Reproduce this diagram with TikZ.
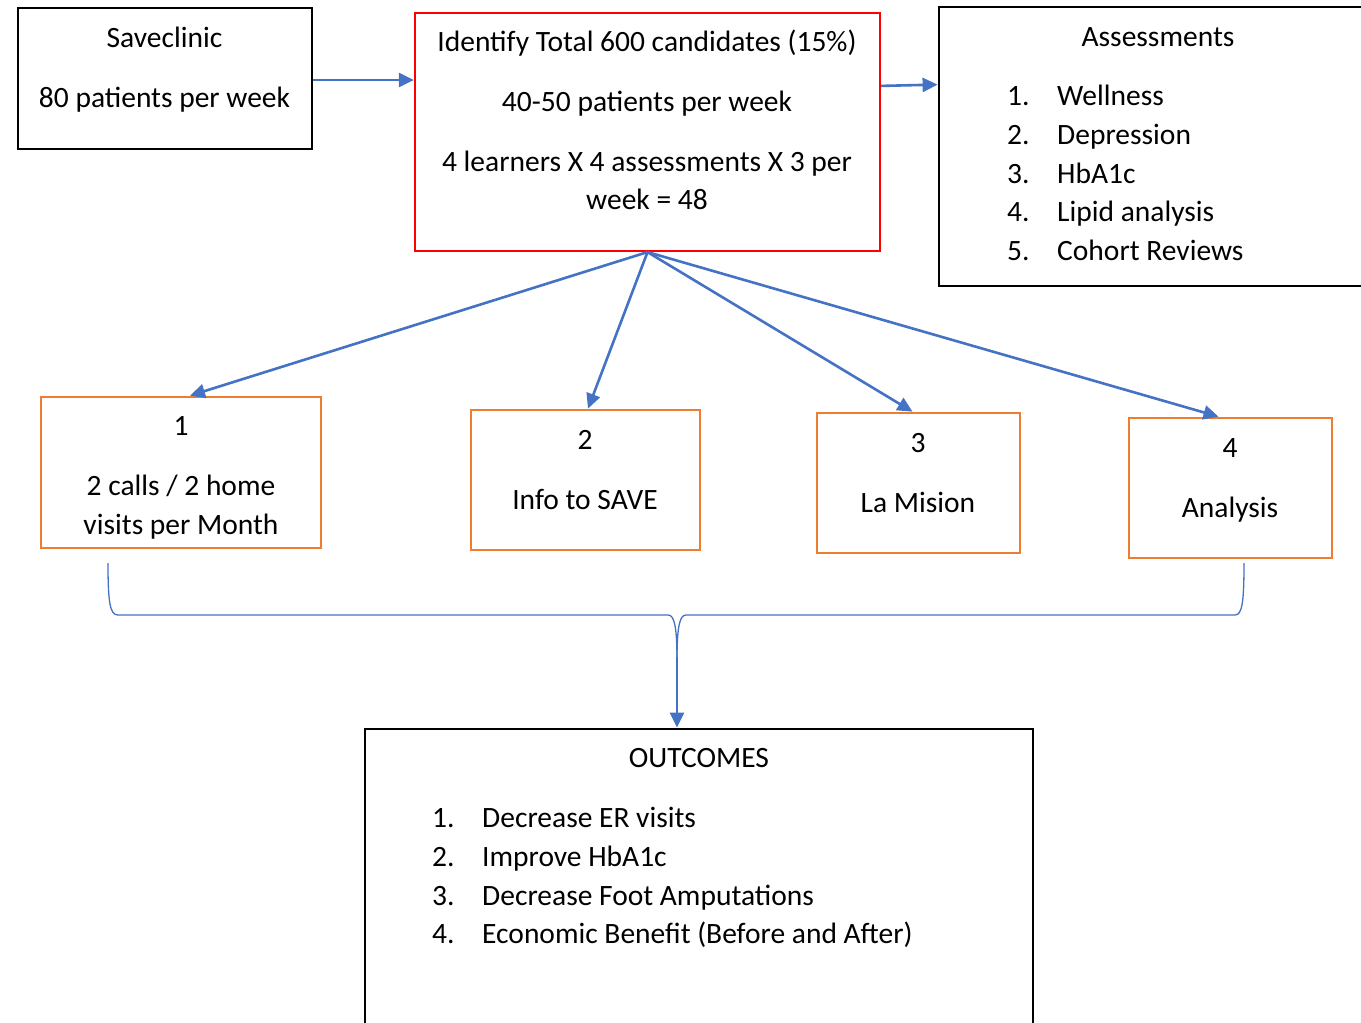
\documentclass[tikz,border=0pt]{standalone}
\usepackage{fontspec}
\setmainfont{Carlito}
\usetikzlibrary{arrows.meta}
\definecolor{wblue}{HTML}{4472C4}
\definecolor{worange}{HTML}{ED7D31}
\definecolor{wred}{HTML}{FF0000}
\begin{document}
\begin{tikzpicture}[x=1pt,y=-1pt,
  blackbox/.style={draw=black,line width=2.8pt,inner sep=0pt},
  redbox/.style={draw=wred,line width=2.2pt,inner sep=0pt},
  orbox/.style={draw=worange,line width=2.7pt,inner sep=0pt},
  txt/.style={inner sep=0pt,anchor=base,font=\fontsize{29.5}{36}\selectfont},
  ltxt/.style={inner sep=0pt,anchor=base west,font=\fontsize{29.5}{36}\selectfont},
  conn/.style={draw=wblue,line width=2.6pt,-{Triangle[length=15pt,width=14pt]}},
  brace/.style={draw=wblue,line width=1.3pt}]
\clip (0,0) rectangle (1361,1023);
\fill[white] (0,0) rectangle (1361,1023);
% boxes
\node[blackbox,minimum width=294,minimum height=141] (save) at (165,78.5) {};
\node[redbox,minimum width=465,minimum height=238] (red) at (647.5,132) {};
\node[blackbox,minimum width=450,minimum height=279] (assess) at (1164,146.5) {};
\node[orbox,minimum width=280,minimum height=151] (b1) at (181,472.5) {};
\node[orbox,minimum width=229,minimum height=140] (b2) at (585.5,480) {};
\node[orbox,minimum width=203,minimum height=140] (b3) at (918.5,483) {};
\node[orbox,minimum width=203,minimum height=140] (b4) at (1230.5,488) {};
\node[blackbox,minimum width=668,minimum height=340] (out) at (699,899) {};
% texts
\node[txt] (t-save1) at (164.5,47) {Saveclinic};
\node[txt] (t-save2) at (164.5,107) {80 patients per week};
\node[txt] (t-red1) at (647,51) {Identify Total 600 candidates (15\%)};
\node[txt] (t-red2) at (647,111) {40-50 patients per week};
\node[txt] (t-red3) at (647,171) {4 learners X 4 assessments X 3 per};
\node[txt] (t-red4) at (647,209) {week = 48};
\node[txt] (t-as) at (1158,46) {Assessments};
\node[ltxt] (a1n) at (1007,105) {1.};
\node[ltxt] (a1) at (1057,105) {Wellness};
\node[ltxt] (a2n) at (1007,144) {2.};
\node[ltxt] (a2) at (1057,144) {Depression};
\node[ltxt] (a3n) at (1007,183) {3.};
\node[ltxt] (a3) at (1057,183) {HbA1c};
\node[ltxt] (a4n) at (1007,221) {4.};
\node[ltxt] (a4) at (1057,221) {Lipid analysis};
\node[ltxt] (a5n) at (1007,260) {5.};
\node[ltxt] (a5) at (1057,260) {Cohort Reviews};
\node[txt] (t-b1a) at (181,435) {1};
\node[txt] (t-b1b) at (181,495) {2 calls / 2 home};
\node[txt] (t-b1c) at (181,534) {visits per Month};
\node[txt] (t-b2a) at (585,449) {2};
\node[txt] (t-b2b) at (585,509) {Info to SAVE};
\node[txt] (t-b3a) at (918,452) {3};
\node[txt] (t-b3b) at (918,512) {La Mision};
\node[txt] (t-b4a) at (1230,457) {4};
\node[txt] (t-b4b) at (1230,517) {Analysis};
\node[txt] (t-out) at (699,767) {OUTCOMES};
\node[ltxt] (o1n) at (432,827) {1.};
\node[ltxt] (o1) at (482,827) {Decrease ER visits};
\node[ltxt] (o2n) at (432,866) {2.};
\node[ltxt] (o2) at (482,866) {Improve HbA1c};
\node[ltxt] (o3n) at (432,905) {3.};
\node[ltxt] (o3) at (482,905) {Decrease Foot Amputations};
\node[ltxt] (o4n) at (432,943) {4.};
\node[ltxt] (o4) at (482,943) {Economic Benefit (Before and After)};
% connectors
\draw[conn] ([yshift=-1.5pt]save.east) -- ([yshift=-1.5pt]save.east -| red.west);
\draw[conn] ([yshift=-74pt]red.north east) -- ([yshift=-79pt]assess.north west);
\draw[conn] (red.south) -- ([xshift=9pt]b1.north);
\draw[conn] (red.south) -- ([xshift=2.5pt]b2.north);
\draw[conn] (red.south) -- ([xshift=-6pt]b3.north);
\draw[conn] (red.south) -- ([xshift=-12pt]b4.north);
% brace
\coordinate (bl) at (108,563);
\coordinate (br) at (1244,563);
\coordinate (bm) at (677,660);
\draw[brace] (bl) .. controls (108,603) and (110,615) .. (118,615) -- (668,615)
  .. controls (674,615) and (677,625) .. (bm);
\draw[brace] (br) .. controls (1244,603) and (1242,615) .. (1235,615) -- (686,615)
  .. controls (680,615) and (677,625) .. (bm);
\draw[conn] ([yshift=3pt]bm) -- (out.north -| bm);
\end{tikzpicture}
\end{document}
